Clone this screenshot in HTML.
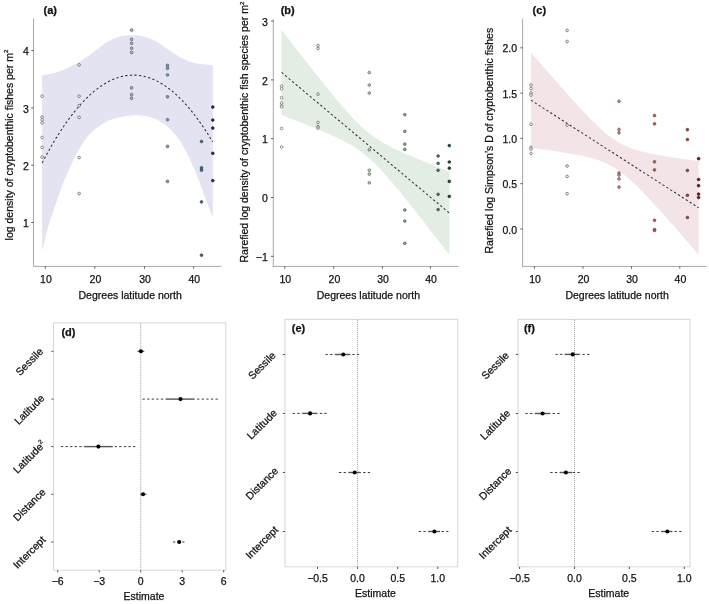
<!DOCTYPE html>
<html><head><meta charset="utf-8"><style>
html,body{margin:0;padding:0;background:#fff;}
body{width:709px;height:604px;overflow:hidden;font-family:"Liberation Sans", sans-serif;}
svg{display:block;will-change:transform;filter:blur(0.3px);}
</style></head><body>
<svg width="709" height="604" viewBox="0 0 709 604" font-family='"Liberation Sans", sans-serif'><style>text{stroke:#111;stroke-width:0.25px;}</style>
<path d="M42.20,75.50 C43.02,75.35 45.52,74.93 47.10,74.60 C48.68,74.27 50.18,73.88 51.70,73.50 C53.22,73.12 54.68,72.75 56.20,72.30 C57.72,71.85 59.28,71.35 60.80,70.80 C62.32,70.25 63.78,69.65 65.30,69.00 C66.82,68.35 68.38,67.63 69.90,66.90 C71.42,66.17 72.88,65.43 74.40,64.60 C75.92,63.77 77.48,62.82 79.00,61.90 C80.52,60.98 81.98,60.08 83.50,59.10 C85.02,58.12 86.58,57.05 88.10,56.00 C89.62,54.95 90.75,54.17 92.60,52.80 C94.45,51.43 97.38,49.18 99.20,47.80 C101.02,46.42 102.08,45.55 103.50,44.50 C104.92,43.45 106.30,42.35 107.70,41.50 C109.10,40.65 110.48,40.03 111.90,39.40 C113.32,38.77 114.78,38.20 116.20,37.70 C117.62,37.20 119.00,36.75 120.40,36.40 C121.80,36.05 123.20,35.80 124.60,35.60 C126.00,35.40 127.38,35.27 128.80,35.20 C130.22,35.13 131.68,35.18 133.10,35.20 C134.52,35.22 135.90,35.17 137.30,35.30 C138.70,35.43 140.08,35.67 141.50,36.00 C142.92,36.33 144.38,36.87 145.80,37.30 C147.22,37.73 148.53,38.07 150.00,38.60 C151.47,39.13 153.07,39.72 154.60,40.50 C156.13,41.28 157.68,42.30 159.20,43.30 C160.72,44.30 162.18,45.43 163.70,46.50 C165.22,47.57 166.77,48.67 168.30,49.70 C169.83,50.73 171.37,51.70 172.90,52.70 C174.43,53.70 175.97,54.78 177.50,55.70 C179.03,56.62 180.57,57.45 182.10,58.20 C183.63,58.95 185.18,59.58 186.70,60.20 C188.22,60.82 189.68,61.40 191.20,61.90 C192.72,62.40 194.27,62.83 195.80,63.20 C197.33,63.57 198.87,63.87 200.40,64.10 C201.93,64.33 203.47,64.45 205.00,64.60 C206.53,64.75 208.30,64.88 209.60,65.00 C210.90,65.12 212.27,65.25 212.80,65.30 L212.80,217.50 C212.02,215.47 209.83,209.88 208.10,205.30 C206.37,200.72 204.30,195.08 202.40,190.00 C200.50,184.92 198.60,179.55 196.70,174.80 C194.80,170.05 192.90,165.63 191.00,161.50 C189.10,157.37 187.53,153.98 185.30,150.00 C183.07,146.02 180.47,141.40 177.60,137.60 C174.73,133.80 171.27,130.05 168.10,127.20 C164.93,124.35 161.77,122.25 158.60,120.50 C155.43,118.75 152.28,117.57 149.10,116.70 C145.92,115.83 142.68,115.48 139.50,115.30 C136.32,115.12 132.90,115.35 130.00,115.60 C127.10,115.85 124.67,116.33 122.10,116.80 C119.53,117.27 117.08,117.67 114.60,118.40 C112.12,119.13 109.68,120.02 107.20,121.20 C104.72,122.38 101.98,123.95 99.70,125.50 C97.42,127.05 95.57,128.63 93.50,130.50 C91.43,132.37 89.17,134.43 87.30,136.70 C85.43,138.97 83.95,141.52 82.30,144.10 C80.65,146.68 79.05,149.20 77.40,152.20 C75.75,155.20 74.07,158.58 72.40,162.10 C70.73,165.62 69.05,169.57 67.40,173.30 C65.75,177.03 63.77,181.32 62.50,184.50 C61.23,187.68 60.97,189.02 59.80,192.40 C58.63,195.78 56.93,200.67 55.50,204.80 C54.07,208.93 52.55,213.07 51.20,217.20 C49.85,221.33 48.55,225.47 47.40,229.60 C46.25,233.73 45.17,238.35 44.30,242.00 C43.43,245.65 42.55,249.92 42.20,251.50 Z" fill="#e3e3f1"/>
<path d="M281.60,29.95 L284.44,33.63 L287.29,37.32 L290.13,40.99 L292.98,44.67 L295.82,48.34 L298.66,52.00 L301.51,55.65 L304.35,59.30 L307.20,62.94 L310.04,66.57 L312.88,70.19 L315.73,73.79 L318.57,77.38 L321.42,80.96 L324.26,84.52 L327.11,88.05 L329.95,91.56 L332.79,95.04 L335.64,98.49 L338.48,101.90 L341.33,105.26 L344.17,108.56 L347.01,111.80 L349.86,114.96 L352.70,118.03 L355.55,121.00 L358.39,123.85 L361.23,126.57 L364.08,129.15 L366.92,131.58 L369.77,133.87 L372.61,136.00 L375.45,138.00 L378.30,139.87 L381.14,141.63 L383.99,143.29 L386.83,144.87 L389.67,146.37 L392.52,147.81 L395.36,149.20 L398.21,150.55 L401.05,151.86 L403.89,153.13 L406.74,154.38 L409.58,155.60 L412.43,156.81 L415.27,157.99 L418.12,159.16 L420.96,160.32 L423.80,161.47 L426.65,162.60 L429.49,163.73 L432.34,164.84 L435.18,165.95 L438.02,167.06 L440.87,168.16 L443.71,169.25 L446.56,170.34 L449.40,171.42 L449.40,254.82 L446.56,251.14 L443.71,247.46 L440.87,243.78 L438.02,240.11 L435.18,236.45 L432.34,232.79 L429.49,229.14 L426.65,225.50 L423.80,221.86 L420.96,218.24 L418.12,214.63 L415.27,211.03 L412.43,207.45 L409.58,203.89 L406.74,200.34 L403.89,196.82 L401.05,193.33 L398.21,189.87 L395.36,186.45 L392.52,183.07 L389.67,179.74 L386.83,176.48 L383.99,173.29 L381.14,170.18 L378.30,167.17 L375.45,164.28 L372.61,161.51 L369.77,158.88 L366.92,156.39 L364.08,154.05 L361.23,151.86 L358.39,149.82 L355.55,147.90 L352.70,146.10 L349.86,144.41 L347.01,142.80 L344.17,141.27 L341.33,139.81 L338.48,138.40 L335.64,137.04 L332.79,135.72 L329.95,134.43 L327.11,133.18 L324.26,131.94 L321.42,130.73 L318.57,129.54 L315.73,128.36 L312.88,127.20 L310.04,126.05 L307.20,124.91 L304.35,123.79 L301.51,122.67 L298.66,121.55 L295.82,120.45 L292.98,119.35 L290.13,118.25 L287.29,117.16 L284.44,116.08 L281.60,115.00 Z" fill="#e2ede3"/>
<path d="M530.90,52.44 L533.74,55.73 L536.58,59.00 L539.43,62.28 L542.27,65.54 L545.11,68.81 L547.95,72.06 L550.80,75.31 L553.64,78.54 L556.48,81.77 L559.32,84.99 L562.17,88.19 L565.01,91.39 L567.85,94.56 L570.69,97.72 L573.54,100.85 L576.38,103.97 L579.22,107.05 L582.06,110.10 L584.91,113.11 L587.75,116.08 L590.59,118.99 L593.43,121.85 L596.27,124.62 L599.12,127.32 L601.96,129.91 L604.80,132.39 L607.64,134.73 L610.49,136.93 L613.33,138.98 L616.17,140.86 L619.01,142.57 L621.86,144.12 L624.70,145.52 L627.54,146.78 L630.38,147.91 L633.23,148.93 L636.07,149.86 L638.91,150.70 L641.75,151.47 L644.59,152.19 L647.44,152.86 L650.28,153.48 L653.12,154.06 L655.96,154.62 L658.81,155.15 L661.65,155.65 L664.49,156.14 L667.33,156.61 L670.18,157.06 L673.02,157.50 L675.86,157.93 L678.70,158.34 L681.55,158.75 L684.39,159.15 L687.23,159.54 L690.07,159.93 L692.92,160.31 L695.76,160.68 L698.60,161.05 L698.60,254.47 L695.76,251.20 L692.92,247.92 L690.07,244.65 L687.23,241.39 L684.39,238.13 L681.55,234.88 L678.70,231.64 L675.86,228.41 L673.02,225.19 L670.18,221.98 L667.33,218.78 L664.49,215.60 L661.65,212.44 L658.81,209.30 L655.96,206.18 L653.12,203.08 L650.28,200.02 L647.44,197.00 L644.59,194.01 L641.75,191.08 L638.91,188.21 L636.07,185.40 L633.23,182.68 L630.38,180.05 L627.54,177.54 L624.70,175.14 L621.86,172.89 L619.01,170.80 L616.17,168.86 L613.33,167.09 L610.49,165.49 L607.64,164.04 L604.80,162.74 L601.96,161.57 L599.12,160.51 L596.27,159.56 L593.43,158.69 L590.59,157.89 L587.75,157.15 L584.91,156.47 L582.06,155.84 L579.22,155.24 L576.38,154.67 L573.54,154.14 L570.69,153.62 L567.85,153.13 L565.01,152.66 L562.17,152.20 L559.32,151.76 L556.48,151.33 L553.64,150.91 L550.80,150.50 L547.95,150.10 L545.11,149.70 L542.27,149.31 L539.43,148.93 L536.58,148.56 L533.74,148.19 L530.90,147.82 Z" fill="#f3e5e7"/>
<line x1="33.50" y1="18.50" x2="33.50" y2="266.90" stroke="#a8a8a8" stroke-width="1"/>
<line x1="33.00" y1="266.40" x2="221.50" y2="266.40" stroke="#a8a8a8" stroke-width="1"/>
<line x1="45.30" y1="266.40" x2="45.30" y2="268.60" stroke="#555" stroke-width="1"/>
<text x="45.90" y="283.00" text-anchor="middle" font-size="10.5" font-weight="normal" fill="#111">10</text>
<line x1="94.80" y1="266.40" x2="94.80" y2="268.60" stroke="#555" stroke-width="1"/>
<text x="95.40" y="283.00" text-anchor="middle" font-size="10.5" font-weight="normal" fill="#111">20</text>
<line x1="144.50" y1="266.40" x2="144.50" y2="268.60" stroke="#555" stroke-width="1"/>
<text x="145.10" y="283.00" text-anchor="middle" font-size="10.5" font-weight="normal" fill="#111">30</text>
<line x1="193.70" y1="266.40" x2="193.70" y2="268.60" stroke="#555" stroke-width="1"/>
<text x="194.30" y="283.00" text-anchor="middle" font-size="10.5" font-weight="normal" fill="#111">40</text>
<line x1="31.30" y1="222.50" x2="33.50" y2="222.50" stroke="#555" stroke-width="1"/>
<text x="28.80" y="227.10" text-anchor="end" font-size="10.5" font-weight="normal" fill="#111">1</text>
<line x1="31.30" y1="165.20" x2="33.50" y2="165.20" stroke="#555" stroke-width="1"/>
<text x="28.80" y="169.80" text-anchor="end" font-size="10.5" font-weight="normal" fill="#111">2</text>
<line x1="31.30" y1="107.90" x2="33.50" y2="107.90" stroke="#555" stroke-width="1"/>
<text x="28.80" y="112.50" text-anchor="end" font-size="10.5" font-weight="normal" fill="#111">3</text>
<line x1="31.30" y1="50.60" x2="33.50" y2="50.60" stroke="#555" stroke-width="1"/>
<text x="28.80" y="55.20" text-anchor="end" font-size="10.5" font-weight="normal" fill="#111">4</text>
<text x="130.20" y="299.20" text-anchor="middle" font-size="10.5" font-weight="normal" fill="#111">Degrees latitude north</text>
<line x1="273.30" y1="18.90" x2="273.30" y2="266.90" stroke="#a8a8a8" stroke-width="1"/>
<line x1="272.80" y1="266.40" x2="458.60" y2="266.40" stroke="#a8a8a8" stroke-width="1"/>
<line x1="284.70" y1="266.40" x2="284.70" y2="268.60" stroke="#555" stroke-width="1"/>
<text x="285.30" y="283.00" text-anchor="middle" font-size="10.5" font-weight="normal" fill="#111">10</text>
<line x1="333.80" y1="266.40" x2="333.80" y2="268.60" stroke="#555" stroke-width="1"/>
<text x="334.40" y="283.00" text-anchor="middle" font-size="10.5" font-weight="normal" fill="#111">20</text>
<line x1="382.40" y1="266.40" x2="382.40" y2="268.60" stroke="#555" stroke-width="1"/>
<text x="383.00" y="283.00" text-anchor="middle" font-size="10.5" font-weight="normal" fill="#111">30</text>
<line x1="430.40" y1="266.40" x2="430.40" y2="268.60" stroke="#555" stroke-width="1"/>
<text x="431.00" y="283.00" text-anchor="middle" font-size="10.5" font-weight="normal" fill="#111">40</text>
<line x1="271.10" y1="256.30" x2="273.30" y2="256.30" stroke="#555" stroke-width="1"/>
<text x="267.80" y="260.90" text-anchor="end" font-size="10.5" font-weight="normal" fill="#111">−1</text>
<line x1="271.10" y1="197.50" x2="273.30" y2="197.50" stroke="#555" stroke-width="1"/>
<text x="267.80" y="202.10" text-anchor="end" font-size="10.5" font-weight="normal" fill="#111">0</text>
<line x1="271.10" y1="138.70" x2="273.30" y2="138.70" stroke="#555" stroke-width="1"/>
<text x="267.80" y="143.30" text-anchor="end" font-size="10.5" font-weight="normal" fill="#111">1</text>
<line x1="271.10" y1="79.90" x2="273.30" y2="79.90" stroke="#555" stroke-width="1"/>
<text x="267.80" y="84.50" text-anchor="end" font-size="10.5" font-weight="normal" fill="#111">2</text>
<line x1="271.10" y1="21.10" x2="273.30" y2="21.10" stroke="#555" stroke-width="1"/>
<text x="267.80" y="25.70" text-anchor="end" font-size="10.5" font-weight="normal" fill="#111">3</text>
<text x="368.40" y="299.20" text-anchor="middle" font-size="10.5" font-weight="normal" fill="#111">Degrees latitude north</text>
<line x1="522.60" y1="18.50" x2="522.60" y2="266.90" stroke="#a8a8a8" stroke-width="1"/>
<line x1="522.10" y1="266.40" x2="706.50" y2="266.40" stroke="#a8a8a8" stroke-width="1"/>
<line x1="534.40" y1="266.40" x2="534.40" y2="268.60" stroke="#555" stroke-width="1"/>
<text x="535.00" y="283.00" text-anchor="middle" font-size="10.5" font-weight="normal" fill="#111">10</text>
<line x1="583.00" y1="266.40" x2="583.00" y2="268.60" stroke="#555" stroke-width="1"/>
<text x="583.60" y="283.00" text-anchor="middle" font-size="10.5" font-weight="normal" fill="#111">20</text>
<line x1="631.50" y1="266.40" x2="631.50" y2="268.60" stroke="#555" stroke-width="1"/>
<text x="632.10" y="283.00" text-anchor="middle" font-size="10.5" font-weight="normal" fill="#111">30</text>
<line x1="679.80" y1="266.40" x2="679.80" y2="268.60" stroke="#555" stroke-width="1"/>
<text x="680.40" y="283.00" text-anchor="middle" font-size="10.5" font-weight="normal" fill="#111">40</text>
<line x1="520.40" y1="229.00" x2="522.60" y2="229.00" stroke="#555" stroke-width="1"/>
<text x="517.10" y="233.60" text-anchor="end" font-size="10.5" font-weight="normal" fill="#111">0.0</text>
<line x1="520.40" y1="183.70" x2="522.60" y2="183.70" stroke="#555" stroke-width="1"/>
<text x="517.10" y="188.30" text-anchor="end" font-size="10.5" font-weight="normal" fill="#111">0.5</text>
<line x1="520.40" y1="138.40" x2="522.60" y2="138.40" stroke="#555" stroke-width="1"/>
<text x="517.10" y="143.00" text-anchor="end" font-size="10.5" font-weight="normal" fill="#111">1.0</text>
<line x1="520.40" y1="93.10" x2="522.60" y2="93.10" stroke="#555" stroke-width="1"/>
<text x="517.10" y="97.70" text-anchor="end" font-size="10.5" font-weight="normal" fill="#111">1.5</text>
<line x1="520.40" y1="47.80" x2="522.60" y2="47.80" stroke="#555" stroke-width="1"/>
<text x="517.10" y="52.40" text-anchor="end" font-size="10.5" font-weight="normal" fill="#111">2.0</text>
<text x="617.10" y="299.20" text-anchor="middle" font-size="10.5" font-weight="normal" fill="#111">Degrees latitude north</text>
<text x="50.25" y="14.15" text-anchor="middle" font-size="11" font-weight="bold" fill="#111">(a)</text>
<text x="287.70" y="14.15" text-anchor="middle" font-size="11" font-weight="bold" fill="#111">(b)</text>
<text x="539.35" y="14.15" text-anchor="middle" font-size="11" font-weight="bold" fill="#111">(c)</text>
<text transform="translate(12.5,240.4) rotate(-90)" font-size="10.5" fill="#111">log density of cryptobenthic fishes per m<tspan font-size="6.2" dy="-4.3">2</tspan></text>
<text transform="translate(248.0,262.5) rotate(-90)" font-size="10.5" fill="#111">Rarefied log density of cryptobenthic fish species per m<tspan font-size="6.2" dy="-4.3">2</tspan></text>
<text transform="translate(493.2,253.5) rotate(-90)" font-size="10.5" fill="#111">Rarefied log Simpson’s D of cryptobenthic fishes</text>
<path d="M42.20,162.91 L44.36,158.80 L46.51,154.79 L48.67,150.87 L50.83,147.06 L52.98,143.34 L55.14,139.72 L57.30,136.20 L59.46,132.78 L61.61,129.46 L63.77,126.23 L65.93,123.11 L68.08,120.08 L70.24,117.15 L72.40,114.32 L74.55,111.59 L76.71,108.96 L78.87,106.42 L81.03,103.99 L83.18,101.65 L85.34,99.41 L87.50,97.27 L89.65,95.23 L91.81,93.29 L93.97,91.44 L96.12,89.70 L98.28,88.05 L100.44,86.50 L102.59,85.05 L104.75,83.70 L106.91,82.45 L109.07,81.30 L111.22,80.24 L113.38,79.28 L115.54,78.43 L117.69,77.67 L119.85,77.01 L122.01,76.44 L124.16,75.98 L126.32,75.61 L128.48,75.35 L130.64,75.18 L132.79,75.11 L134.95,75.14 L137.11,75.27 L139.26,75.49 L141.42,75.82 L143.58,76.24 L145.73,76.76 L147.89,77.38 L150.05,78.10 L152.21,78.92 L154.36,79.84 L156.52,80.85 L158.68,81.96 L160.83,83.18 L162.99,84.49 L165.15,85.90 L167.30,87.40 L169.46,89.01 L171.62,90.72 L173.77,92.52 L175.93,94.42 L178.09,96.42 L180.25,98.52 L182.40,100.72 L184.56,103.02 L186.72,105.41 L188.87,107.90 L191.03,110.50 L193.19,113.19 L195.34,115.98 L197.50,118.86 L199.66,121.85 L201.82,124.94 L203.97,128.12 L206.13,131.40 L208.29,134.78 L210.44,138.26 L212.60,141.84" fill="none" stroke="#333" stroke-width="1.05" stroke-dasharray="2.3,2.3"/>
<line x1="281.6" y1="72.47" x2="449.4" y2="213.12" stroke="#333" stroke-width="1.05" stroke-dasharray="2.3,2.3"/>
<line x1="530.9" y1="100.13" x2="698.6" y2="207.76" stroke="#333" stroke-width="1.05" stroke-dasharray="2.3,2.3"/>
<circle cx="42.10" cy="96.20" r="1.35" fill="#ffffff" stroke="#66666c" stroke-width="0.75"/>
<circle cx="42.10" cy="117.10" r="1.35" fill="#ffffff" stroke="#66666c" stroke-width="0.75"/>
<circle cx="42.10" cy="119.80" r="1.35" fill="#ffffff" stroke="#66666c" stroke-width="0.75"/>
<circle cx="42.10" cy="122.90" r="1.35" fill="#ffffff" stroke="#66666c" stroke-width="0.75"/>
<circle cx="42.10" cy="137.50" r="1.35" fill="#ffffff" stroke="#66666c" stroke-width="0.75"/>
<circle cx="42.10" cy="147.40" r="1.35" fill="#ffffff" stroke="#66666c" stroke-width="0.75"/>
<circle cx="42.10" cy="157.10" r="1.35" fill="#ffffff" stroke="#66666c" stroke-width="0.75"/>
<circle cx="79.10" cy="64.90" r="1.35" fill="#f4f4f8" stroke="#626268" stroke-width="0.75"/>
<circle cx="79.10" cy="96.20" r="1.35" fill="#f4f4f8" stroke="#626268" stroke-width="0.75"/>
<circle cx="79.10" cy="105.60" r="1.35" fill="#f4f4f8" stroke="#626268" stroke-width="0.75"/>
<circle cx="79.10" cy="117.40" r="1.35" fill="#f4f4f8" stroke="#626268" stroke-width="0.75"/>
<circle cx="79.10" cy="157.50" r="1.35" fill="#f4f4f8" stroke="#626268" stroke-width="0.75"/>
<circle cx="79.10" cy="193.50" r="1.35" fill="#f4f4f8" stroke="#626268" stroke-width="0.75"/>
<circle cx="131.60" cy="30.10" r="1.35" fill="#b4bac6" stroke="#50555f" stroke-width="0.75"/>
<circle cx="131.60" cy="39.30" r="1.35" fill="#b4bac6" stroke="#50555f" stroke-width="0.75"/>
<circle cx="131.60" cy="43.30" r="1.35" fill="#b4bac6" stroke="#50555f" stroke-width="0.75"/>
<circle cx="131.60" cy="48.30" r="1.35" fill="#b4bac6" stroke="#50555f" stroke-width="0.75"/>
<circle cx="131.60" cy="52.50" r="1.35" fill="#b4bac6" stroke="#50555f" stroke-width="0.75"/>
<circle cx="131.60" cy="87.80" r="1.35" fill="#b4bac6" stroke="#50555f" stroke-width="0.75"/>
<circle cx="131.60" cy="94.70" r="1.35" fill="#b4bac6" stroke="#50555f" stroke-width="0.75"/>
<circle cx="131.60" cy="98.30" r="1.35" fill="#b4bac6" stroke="#50555f" stroke-width="0.75"/>
<circle cx="167.50" cy="65.40" r="1.35" fill="#7f9db0" stroke="#4a6070" stroke-width="0.75"/>
<circle cx="167.50" cy="68.30" r="1.35" fill="#7f9db0" stroke="#4a6070" stroke-width="0.75"/>
<circle cx="167.50" cy="74.90" r="1.35" fill="#7f9db0" stroke="#4a6070" stroke-width="0.75"/>
<circle cx="167.50" cy="96.80" r="1.35" fill="#7f9db0" stroke="#4a6070" stroke-width="0.75"/>
<circle cx="167.50" cy="119.70" r="1.35" fill="#7f9db0" stroke="#4a6070" stroke-width="0.75"/>
<circle cx="167.50" cy="146.40" r="1.35" fill="#7f9db0" stroke="#4a6070" stroke-width="0.75"/>
<circle cx="167.50" cy="181.40" r="1.35" fill="#7f9db0" stroke="#4a6070" stroke-width="0.75"/>
<circle cx="201.50" cy="141.50" r="1.35" fill="#3f6787" stroke="#2e4a62" stroke-width="0.75"/>
<circle cx="201.50" cy="167.80" r="1.35" fill="#3f6787" stroke="#2e4a62" stroke-width="0.75"/>
<circle cx="201.50" cy="170.20" r="1.35" fill="#3f6787" stroke="#2e4a62" stroke-width="0.75"/>
<circle cx="201.50" cy="201.90" r="1.35" fill="#3f6787" stroke="#2e4a62" stroke-width="0.75"/>
<circle cx="201.50" cy="255.20" r="1.35" fill="#3f6787" stroke="#2e4a62" stroke-width="0.75"/>
<circle cx="212.80" cy="107.10" r="1.35" fill="#1e2a5c" stroke="#18204a" stroke-width="0.75"/>
<circle cx="212.80" cy="120.10" r="1.35" fill="#1e2a5c" stroke="#18204a" stroke-width="0.75"/>
<circle cx="212.80" cy="128.10" r="1.35" fill="#1e2a5c" stroke="#18204a" stroke-width="0.75"/>
<circle cx="212.80" cy="153.30" r="1.35" fill="#1e2a5c" stroke="#18204a" stroke-width="0.75"/>
<circle cx="212.80" cy="180.60" r="1.35" fill="#1e2a5c" stroke="#18204a" stroke-width="0.75"/>
<circle cx="281.60" cy="86.10" r="1.35" fill="#ffffff" stroke="#6a706a" stroke-width="0.75"/>
<circle cx="281.60" cy="88.80" r="1.35" fill="#ffffff" stroke="#6a706a" stroke-width="0.75"/>
<circle cx="281.60" cy="97.70" r="1.35" fill="#ffffff" stroke="#6a706a" stroke-width="0.75"/>
<circle cx="281.60" cy="103.00" r="1.35" fill="#ffffff" stroke="#6a706a" stroke-width="0.75"/>
<circle cx="281.60" cy="105.80" r="1.35" fill="#ffffff" stroke="#6a706a" stroke-width="0.75"/>
<circle cx="281.60" cy="106.90" r="1.35" fill="#ffffff" stroke="#6a706a" stroke-width="0.75"/>
<circle cx="281.60" cy="128.50" r="1.35" fill="#ffffff" stroke="#6a706a" stroke-width="0.75"/>
<circle cx="281.60" cy="147.00" r="1.35" fill="#ffffff" stroke="#6a706a" stroke-width="0.75"/>
<circle cx="318.00" cy="45.50" r="1.35" fill="#eef3ee" stroke="#666c66" stroke-width="0.75"/>
<circle cx="318.00" cy="48.50" r="1.35" fill="#eef3ee" stroke="#666c66" stroke-width="0.75"/>
<circle cx="318.00" cy="94.20" r="1.35" fill="#eef3ee" stroke="#666c66" stroke-width="0.75"/>
<circle cx="318.00" cy="122.50" r="1.35" fill="#eef3ee" stroke="#666c66" stroke-width="0.75"/>
<circle cx="318.00" cy="126.60" r="1.35" fill="#eef3ee" stroke="#666c66" stroke-width="0.75"/>
<circle cx="318.00" cy="128.00" r="1.35" fill="#eef3ee" stroke="#666c66" stroke-width="0.75"/>
<circle cx="369.30" cy="72.60" r="1.35" fill="#b5c8b5" stroke="#5f6f5f" stroke-width="0.75"/>
<circle cx="369.30" cy="85.10" r="1.35" fill="#b5c8b5" stroke="#5f6f5f" stroke-width="0.75"/>
<circle cx="369.30" cy="93.10" r="1.35" fill="#b5c8b5" stroke="#5f6f5f" stroke-width="0.75"/>
<circle cx="369.30" cy="149.80" r="1.35" fill="#b5c8b5" stroke="#5f6f5f" stroke-width="0.75"/>
<circle cx="369.30" cy="170.30" r="1.35" fill="#b5c8b5" stroke="#5f6f5f" stroke-width="0.75"/>
<circle cx="369.30" cy="174.10" r="1.35" fill="#b5c8b5" stroke="#5f6f5f" stroke-width="0.75"/>
<circle cx="369.30" cy="182.80" r="1.35" fill="#b5c8b5" stroke="#5f6f5f" stroke-width="0.75"/>
<circle cx="404.80" cy="114.70" r="1.35" fill="#8aa88c" stroke="#4f6651" stroke-width="0.75"/>
<circle cx="404.80" cy="131.40" r="1.35" fill="#8aa88c" stroke="#4f6651" stroke-width="0.75"/>
<circle cx="404.80" cy="144.20" r="1.35" fill="#8aa88c" stroke="#4f6651" stroke-width="0.75"/>
<circle cx="404.80" cy="149.40" r="1.35" fill="#8aa88c" stroke="#4f6651" stroke-width="0.75"/>
<circle cx="404.80" cy="210.00" r="1.35" fill="#8aa88c" stroke="#4f6651" stroke-width="0.75"/>
<circle cx="404.80" cy="221.10" r="1.35" fill="#8aa88c" stroke="#4f6651" stroke-width="0.75"/>
<circle cx="404.80" cy="243.30" r="1.35" fill="#8aa88c" stroke="#4f6651" stroke-width="0.75"/>
<circle cx="438.10" cy="156.00" r="1.35" fill="#4c7a56" stroke="#36583d" stroke-width="0.75"/>
<circle cx="438.10" cy="163.40" r="1.35" fill="#4c7a56" stroke="#36583d" stroke-width="0.75"/>
<circle cx="438.10" cy="170.30" r="1.35" fill="#4c7a56" stroke="#36583d" stroke-width="0.75"/>
<circle cx="438.10" cy="194.30" r="1.35" fill="#4c7a56" stroke="#36583d" stroke-width="0.75"/>
<circle cx="438.10" cy="209.60" r="1.35" fill="#4c7a56" stroke="#36583d" stroke-width="0.75"/>
<circle cx="449.30" cy="145.60" r="1.35" fill="#1f4a2a" stroke="#17361f" stroke-width="0.75"/>
<circle cx="449.30" cy="162.00" r="1.35" fill="#1f4a2a" stroke="#17361f" stroke-width="0.75"/>
<circle cx="449.30" cy="168.20" r="1.35" fill="#1f4a2a" stroke="#17361f" stroke-width="0.75"/>
<circle cx="449.30" cy="181.40" r="1.35" fill="#1f4a2a" stroke="#17361f" stroke-width="0.75"/>
<circle cx="449.30" cy="196.40" r="1.35" fill="#1f4a2a" stroke="#17361f" stroke-width="0.75"/>
<circle cx="531.00" cy="85.00" r="1.35" fill="#ffffff" stroke="#726a6b" stroke-width="0.75"/>
<circle cx="531.00" cy="88.50" r="1.35" fill="#ffffff" stroke="#726a6b" stroke-width="0.75"/>
<circle cx="531.00" cy="93.00" r="1.35" fill="#ffffff" stroke="#726a6b" stroke-width="0.75"/>
<circle cx="531.00" cy="95.10" r="1.35" fill="#ffffff" stroke="#726a6b" stroke-width="0.75"/>
<circle cx="531.00" cy="124.30" r="1.35" fill="#ffffff" stroke="#726a6b" stroke-width="0.75"/>
<circle cx="531.00" cy="147.50" r="1.35" fill="#ffffff" stroke="#726a6b" stroke-width="0.75"/>
<circle cx="531.00" cy="149.00" r="1.35" fill="#ffffff" stroke="#726a6b" stroke-width="0.75"/>
<circle cx="531.00" cy="153.50" r="1.35" fill="#ffffff" stroke="#726a6b" stroke-width="0.75"/>
<circle cx="567.10" cy="30.40" r="1.35" fill="#f6eeee" stroke="#6e6566" stroke-width="0.75"/>
<circle cx="567.10" cy="41.50" r="1.35" fill="#f6eeee" stroke="#6e6566" stroke-width="0.75"/>
<circle cx="567.10" cy="125.20" r="1.35" fill="#f6eeee" stroke="#6e6566" stroke-width="0.75"/>
<circle cx="567.10" cy="166.00" r="1.35" fill="#f6eeee" stroke="#6e6566" stroke-width="0.75"/>
<circle cx="567.10" cy="176.40" r="1.35" fill="#f6eeee" stroke="#6e6566" stroke-width="0.75"/>
<circle cx="567.10" cy="193.70" r="1.35" fill="#f6eeee" stroke="#6e6566" stroke-width="0.75"/>
<circle cx="619.00" cy="101.30" r="1.35" fill="#c99590" stroke="#7a4f4c" stroke-width="0.75"/>
<circle cx="619.00" cy="129.40" r="1.35" fill="#c99590" stroke="#7a4f4c" stroke-width="0.75"/>
<circle cx="619.00" cy="132.80" r="1.35" fill="#c99590" stroke="#7a4f4c" stroke-width="0.75"/>
<circle cx="619.00" cy="173.00" r="1.35" fill="#c99590" stroke="#7a4f4c" stroke-width="0.75"/>
<circle cx="619.00" cy="175.00" r="1.35" fill="#c99590" stroke="#7a4f4c" stroke-width="0.75"/>
<circle cx="619.00" cy="178.90" r="1.35" fill="#c99590" stroke="#7a4f4c" stroke-width="0.75"/>
<circle cx="619.00" cy="187.10" r="1.35" fill="#c99590" stroke="#7a4f4c" stroke-width="0.75"/>
<circle cx="654.50" cy="115.60" r="1.35" fill="#ae625c" stroke="#74403c" stroke-width="0.75"/>
<circle cx="654.50" cy="123.80" r="1.35" fill="#ae625c" stroke="#74403c" stroke-width="0.75"/>
<circle cx="654.50" cy="161.80" r="1.35" fill="#ae625c" stroke="#74403c" stroke-width="0.75"/>
<circle cx="654.50" cy="169.90" r="1.35" fill="#ae625c" stroke="#74403c" stroke-width="0.75"/>
<circle cx="654.50" cy="220.30" r="1.35" fill="#ae625c" stroke="#74403c" stroke-width="0.75"/>
<circle cx="654.50" cy="229.60" r="1.35" fill="#ae625c" stroke="#74403c" stroke-width="0.75"/>
<circle cx="654.50" cy="230.40" r="1.35" fill="#ae625c" stroke="#74403c" stroke-width="0.75"/>
<circle cx="687.40" cy="129.70" r="1.35" fill="#99423e" stroke="#6e2e2b" stroke-width="0.75"/>
<circle cx="687.40" cy="139.50" r="1.35" fill="#99423e" stroke="#6e2e2b" stroke-width="0.75"/>
<circle cx="687.40" cy="170.50" r="1.35" fill="#99423e" stroke="#6e2e2b" stroke-width="0.75"/>
<circle cx="687.40" cy="195.30" r="1.35" fill="#99423e" stroke="#6e2e2b" stroke-width="0.75"/>
<circle cx="687.40" cy="217.50" r="1.35" fill="#99423e" stroke="#6e2e2b" stroke-width="0.75"/>
<circle cx="698.60" cy="158.70" r="1.35" fill="#6e1a1c" stroke="#4e1214" stroke-width="0.75"/>
<circle cx="698.60" cy="179.50" r="1.35" fill="#6e1a1c" stroke="#4e1214" stroke-width="0.75"/>
<circle cx="698.60" cy="185.70" r="1.35" fill="#6e1a1c" stroke="#4e1214" stroke-width="0.75"/>
<circle cx="698.60" cy="194.10" r="1.35" fill="#6e1a1c" stroke="#4e1214" stroke-width="0.75"/>
<circle cx="698.60" cy="197.50" r="1.35" fill="#6e1a1c" stroke="#4e1214" stroke-width="0.75"/>
<rect x="53.50" y="322.90" width="172.30" height="247.30" fill="none" stroke="#d6d6d6" stroke-width="1"/>
<line x1="140.70" y1="323.40" x2="140.70" y2="569.70" stroke="#666" stroke-width="0.8" stroke-dasharray="0.8,1.2"/>
<line x1="57.72" y1="570.20" x2="57.72" y2="572.40" stroke="#555" stroke-width="1"/>
<text x="57.72" y="585.20" text-anchor="middle" font-size="10.5" font-weight="normal" fill="#111">−6</text>
<line x1="99.21" y1="570.20" x2="99.21" y2="572.40" stroke="#555" stroke-width="1"/>
<text x="99.21" y="585.20" text-anchor="middle" font-size="10.5" font-weight="normal" fill="#111">−3</text>
<line x1="140.70" y1="570.20" x2="140.70" y2="572.40" stroke="#555" stroke-width="1"/>
<text x="140.70" y="585.20" text-anchor="middle" font-size="10.5" font-weight="normal" fill="#111">0</text>
<line x1="182.19" y1="570.20" x2="182.19" y2="572.40" stroke="#555" stroke-width="1"/>
<text x="182.19" y="585.20" text-anchor="middle" font-size="10.5" font-weight="normal" fill="#111">3</text>
<line x1="223.68" y1="570.20" x2="223.68" y2="572.40" stroke="#555" stroke-width="1"/>
<text x="223.68" y="585.20" text-anchor="middle" font-size="10.5" font-weight="normal" fill="#111">6</text>
<line x1="51.30" y1="351.30" x2="53.50" y2="351.30" stroke="#555" stroke-width="1"/>
<line x1="137.50" y1="351.30" x2="139.50" y2="351.30" stroke="#3a3a3a" stroke-width="1" stroke-dasharray="2.3,2.3"/>
<line x1="144.30" y1="351.30" x2="142.30" y2="351.30" stroke="#3a3a3a" stroke-width="1" stroke-dasharray="2.3,2.3"/>
<line x1="139.50" y1="351.30" x2="142.30" y2="351.30" stroke="#555" stroke-width="1.4"/>
<circle cx="140.90" cy="351.30" r="2.05" fill="#000"/>
<text transform="translate(31.85,364.20) rotate(-45)" text-anchor="middle" font-size="10.5" fill="#111">Sessile</text>
<line x1="51.30" y1="399.10" x2="53.50" y2="399.10" stroke="#555" stroke-width="1"/>
<line x1="142.50" y1="399.10" x2="165.80" y2="399.10" stroke="#3a3a3a" stroke-width="1" stroke-dasharray="2.3,2.3"/>
<line x1="217.80" y1="399.10" x2="194.50" y2="399.10" stroke="#3a3a3a" stroke-width="1" stroke-dasharray="2.3,2.3"/>
<line x1="165.80" y1="399.10" x2="194.50" y2="399.10" stroke="#555" stroke-width="1.4"/>
<circle cx="180.50" cy="399.10" r="2.05" fill="#000"/>
<text transform="translate(31.85,412.00) rotate(-45)" text-anchor="middle" font-size="10.5" fill="#111">Latitude</text>
<line x1="51.30" y1="446.60" x2="53.50" y2="446.60" stroke="#555" stroke-width="1"/>
<line x1="60.90" y1="446.60" x2="84.10" y2="446.60" stroke="#3a3a3a" stroke-width="1" stroke-dasharray="2.3,2.3"/>
<line x1="135.30" y1="446.60" x2="112.80" y2="446.60" stroke="#3a3a3a" stroke-width="1" stroke-dasharray="2.3,2.3"/>
<line x1="84.10" y1="446.60" x2="112.80" y2="446.60" stroke="#555" stroke-width="1.4"/>
<circle cx="98.40" cy="446.60" r="2.05" fill="#000"/>
<text transform="translate(31.85,459.50) rotate(-45)" text-anchor="middle" font-size="10.5" fill="#111">Latitude<tspan font-size="6.2" dy="-4.3">2</tspan></text>
<line x1="51.30" y1="494.30" x2="53.50" y2="494.30" stroke="#555" stroke-width="1"/>
<line x1="140.30" y1="494.30" x2="141.00" y2="494.30" stroke="#3a3a3a" stroke-width="1" stroke-dasharray="2.3,2.3"/>
<line x1="146.50" y1="494.30" x2="145.50" y2="494.30" stroke="#3a3a3a" stroke-width="1" stroke-dasharray="2.3,2.3"/>
<line x1="141.00" y1="494.30" x2="145.50" y2="494.30" stroke="#555" stroke-width="1.4"/>
<circle cx="143.10" cy="494.30" r="2.05" fill="#000"/>
<text transform="translate(31.85,507.20) rotate(-45)" text-anchor="middle" font-size="10.5" fill="#111">Distance</text>
<line x1="51.30" y1="542.00" x2="53.50" y2="542.00" stroke="#555" stroke-width="1"/>
<line x1="173.00" y1="542.00" x2="177.60" y2="542.00" stroke="#3a3a3a" stroke-width="1" stroke-dasharray="2.3,2.3"/>
<line x1="184.50" y1="542.00" x2="180.80" y2="542.00" stroke="#3a3a3a" stroke-width="1" stroke-dasharray="2.3,2.3"/>
<line x1="177.60" y1="542.00" x2="180.80" y2="542.00" stroke="#555" stroke-width="1.4"/>
<circle cx="179.20" cy="542.00" r="2.05" fill="#000"/>
<text transform="translate(31.85,554.90) rotate(-45)" text-anchor="middle" font-size="10.5" fill="#111">Intercept</text>
<text x="68.40" y="336.15" text-anchor="middle" font-size="11" font-weight="bold" fill="#111">(d)</text>
<text x="144.00" y="600.40" text-anchor="middle" font-size="10.5" font-weight="normal" fill="#111">Estimate</text>
<rect x="285.00" y="319.40" width="172.70" height="247.40" fill="none" stroke="#d6d6d6" stroke-width="1"/>
<line x1="357.60" y1="319.90" x2="357.60" y2="566.30" stroke="#666" stroke-width="0.8" stroke-dasharray="0.8,1.2"/>
<line x1="317.50" y1="566.80" x2="317.50" y2="569.00" stroke="#555" stroke-width="1"/>
<text x="317.50" y="581.80" text-anchor="middle" font-size="10.5" font-weight="normal" fill="#111">−0.5</text>
<line x1="357.60" y1="566.80" x2="357.60" y2="569.00" stroke="#555" stroke-width="1"/>
<text x="357.60" y="581.80" text-anchor="middle" font-size="10.5" font-weight="normal" fill="#111">0.0</text>
<line x1="397.70" y1="566.80" x2="397.70" y2="569.00" stroke="#555" stroke-width="1"/>
<text x="397.70" y="581.80" text-anchor="middle" font-size="10.5" font-weight="normal" fill="#111">0.5</text>
<line x1="437.80" y1="566.80" x2="437.80" y2="569.00" stroke="#555" stroke-width="1"/>
<text x="437.80" y="581.80" text-anchor="middle" font-size="10.5" font-weight="normal" fill="#111">1.0</text>
<line x1="282.80" y1="354.50" x2="285.00" y2="354.50" stroke="#555" stroke-width="1"/>
<line x1="325.50" y1="354.50" x2="335.10" y2="354.50" stroke="#3a3a3a" stroke-width="1" stroke-dasharray="2.3,2.3"/>
<line x1="359.20" y1="354.50" x2="350.30" y2="354.50" stroke="#3a3a3a" stroke-width="1" stroke-dasharray="2.3,2.3"/>
<line x1="335.10" y1="354.50" x2="350.30" y2="354.50" stroke="#555" stroke-width="1.4"/>
<circle cx="343.30" cy="354.50" r="2.05" fill="#000"/>
<text transform="translate(264.45,368.00) rotate(-45)" text-anchor="middle" font-size="10.5" fill="#111">Sessile</text>
<line x1="282.80" y1="413.40" x2="285.00" y2="413.40" stroke="#555" stroke-width="1"/>
<line x1="292.70" y1="413.40" x2="302.20" y2="413.40" stroke="#3a3a3a" stroke-width="1" stroke-dasharray="2.3,2.3"/>
<line x1="326.70" y1="413.40" x2="317.40" y2="413.40" stroke="#3a3a3a" stroke-width="1" stroke-dasharray="2.3,2.3"/>
<line x1="302.20" y1="413.40" x2="317.40" y2="413.40" stroke="#555" stroke-width="1.4"/>
<circle cx="310.10" cy="413.40" r="2.05" fill="#000"/>
<text transform="translate(264.45,426.90) rotate(-45)" text-anchor="middle" font-size="10.5" fill="#111">Latitude</text>
<line x1="282.80" y1="472.50" x2="285.00" y2="472.50" stroke="#555" stroke-width="1"/>
<line x1="339.00" y1="472.50" x2="348.60" y2="472.50" stroke="#3a3a3a" stroke-width="1" stroke-dasharray="2.3,2.3"/>
<line x1="370.10" y1="472.50" x2="360.00" y2="472.50" stroke="#3a3a3a" stroke-width="1" stroke-dasharray="2.3,2.3"/>
<line x1="348.60" y1="472.50" x2="360.00" y2="472.50" stroke="#555" stroke-width="1.4"/>
<circle cx="354.70" cy="472.50" r="2.05" fill="#000"/>
<text transform="translate(264.45,486.00) rotate(-45)" text-anchor="middle" font-size="10.5" fill="#111">Distance</text>
<line x1="282.80" y1="531.50" x2="285.00" y2="531.50" stroke="#555" stroke-width="1"/>
<line x1="418.80" y1="531.50" x2="428.10" y2="531.50" stroke="#3a3a3a" stroke-width="1" stroke-dasharray="2.3,2.3"/>
<line x1="448.40" y1="531.50" x2="440.00" y2="531.50" stroke="#3a3a3a" stroke-width="1" stroke-dasharray="2.3,2.3"/>
<line x1="428.10" y1="531.50" x2="440.00" y2="531.50" stroke="#555" stroke-width="1.4"/>
<circle cx="434.40" cy="531.50" r="2.05" fill="#000"/>
<text transform="translate(264.45,545.00) rotate(-45)" text-anchor="middle" font-size="10.5" fill="#111">Intercept</text>
<text x="298.50" y="332.25" text-anchor="middle" font-size="11" font-weight="bold" fill="#111">(e)</text>
<text x="375.50" y="597.00" text-anchor="middle" font-size="10.5" font-weight="normal" fill="#111">Estimate</text>
<rect x="518.00" y="319.40" width="172.00" height="247.40" fill="none" stroke="#d6d6d6" stroke-width="1"/>
<line x1="574.50" y1="319.90" x2="574.50" y2="566.30" stroke="#666" stroke-width="0.8" stroke-dasharray="0.8,1.2"/>
<line x1="519.60" y1="566.80" x2="519.60" y2="569.00" stroke="#555" stroke-width="1"/>
<text x="519.60" y="581.80" text-anchor="middle" font-size="10.5" font-weight="normal" fill="#111">−0.5</text>
<line x1="574.50" y1="566.80" x2="574.50" y2="569.00" stroke="#555" stroke-width="1"/>
<text x="574.50" y="581.80" text-anchor="middle" font-size="10.5" font-weight="normal" fill="#111">0.0</text>
<line x1="629.40" y1="566.80" x2="629.40" y2="569.00" stroke="#555" stroke-width="1"/>
<text x="629.40" y="581.80" text-anchor="middle" font-size="10.5" font-weight="normal" fill="#111">0.5</text>
<line x1="684.30" y1="566.80" x2="684.30" y2="569.00" stroke="#555" stroke-width="1"/>
<text x="684.30" y="581.80" text-anchor="middle" font-size="10.5" font-weight="normal" fill="#111">1.0</text>
<line x1="515.80" y1="354.40" x2="518.00" y2="354.40" stroke="#555" stroke-width="1"/>
<line x1="555.50" y1="354.40" x2="564.60" y2="354.40" stroke="#3a3a3a" stroke-width="1" stroke-dasharray="2.3,2.3"/>
<line x1="589.40" y1="354.40" x2="579.80" y2="354.40" stroke="#3a3a3a" stroke-width="1" stroke-dasharray="2.3,2.3"/>
<line x1="564.60" y1="354.40" x2="579.80" y2="354.40" stroke="#555" stroke-width="1.4"/>
<circle cx="572.70" cy="354.40" r="2.05" fill="#000"/>
<text transform="translate(497.75,368.10) rotate(-45)" text-anchor="middle" font-size="10.5" fill="#111">Sessile</text>
<line x1="515.80" y1="413.50" x2="518.00" y2="413.50" stroke="#555" stroke-width="1"/>
<line x1="525.40" y1="413.50" x2="534.80" y2="413.50" stroke="#3a3a3a" stroke-width="1" stroke-dasharray="2.3,2.3"/>
<line x1="559.60" y1="413.50" x2="550.00" y2="413.50" stroke="#3a3a3a" stroke-width="1" stroke-dasharray="2.3,2.3"/>
<line x1="534.80" y1="413.50" x2="550.00" y2="413.50" stroke="#555" stroke-width="1.4"/>
<circle cx="542.60" cy="413.50" r="2.05" fill="#000"/>
<text transform="translate(497.75,427.20) rotate(-45)" text-anchor="middle" font-size="10.5" fill="#111">Latitude</text>
<line x1="515.80" y1="472.50" x2="518.00" y2="472.50" stroke="#555" stroke-width="1"/>
<line x1="550.30" y1="472.50" x2="559.60" y2="472.50" stroke="#3a3a3a" stroke-width="1" stroke-dasharray="2.3,2.3"/>
<line x1="579.70" y1="472.50" x2="572.30" y2="472.50" stroke="#3a3a3a" stroke-width="1" stroke-dasharray="2.3,2.3"/>
<line x1="559.60" y1="472.50" x2="572.30" y2="472.50" stroke="#555" stroke-width="1.4"/>
<circle cx="565.90" cy="472.50" r="2.05" fill="#000"/>
<text transform="translate(497.75,486.20) rotate(-45)" text-anchor="middle" font-size="10.5" fill="#111">Distance</text>
<line x1="515.80" y1="531.50" x2="518.00" y2="531.50" stroke="#555" stroke-width="1"/>
<line x1="651.70" y1="531.50" x2="661.10" y2="531.50" stroke="#3a3a3a" stroke-width="1" stroke-dasharray="2.3,2.3"/>
<line x1="681.50" y1="531.50" x2="672.40" y2="531.50" stroke="#3a3a3a" stroke-width="1" stroke-dasharray="2.3,2.3"/>
<line x1="661.10" y1="531.50" x2="672.40" y2="531.50" stroke="#555" stroke-width="1.4"/>
<circle cx="667.30" cy="531.50" r="2.05" fill="#000"/>
<text transform="translate(497.75,545.20) rotate(-45)" text-anchor="middle" font-size="10.5" fill="#111">Intercept</text>
<text x="529.40" y="332.25" text-anchor="middle" font-size="11" font-weight="bold" fill="#111">(f)</text>
<text x="608.80" y="597.00" text-anchor="middle" font-size="10.5" font-weight="normal" fill="#111">Estimate</text>
</svg>
</body></html>
